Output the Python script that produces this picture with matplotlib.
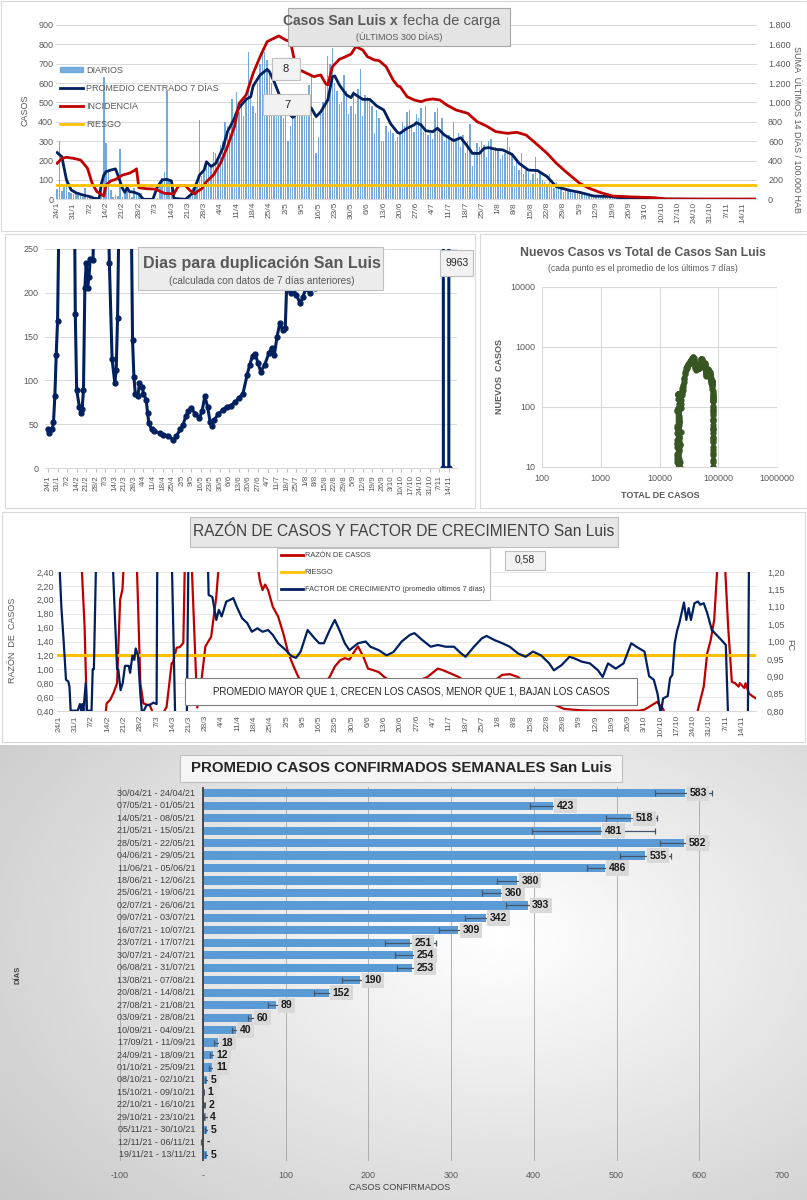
"""
San Luis COVID dashboard: daily cases, doubling days, growth factor and weekly averages.
"""

import numpy as np
import pandas as pd
import matplotlib
matplotlib.use("Agg")
import matplotlib.pyplot as plt
from matplotlib.patches import Rectangle, Patch
from matplotlib.lines import Line2D
from matplotlib.ticker import FuncFormatter


W, H = 807, 1200
NARROW = ["Liberation Sans Narrow", "Liberation Sans", "DejaVu Sans"]
GREY_TXT = "#595959"
NAVY = "#002060"
RED = "#c00000"
GOLD = "#ffc000"
BLUE_BAR = "#5b9bd5"
GREEN = "#375623"

plt.rcParams["font.family"] = NARROW

# ---------------------------------------------------------------- data
start_date = "2021-01-24"

daily_cases = [
    55, 300, 45, 70, 90, 40, 30,
    25, 35, 20, 15, 10, 60, 5,
    5, 0, 10, 5, 0, 20, 630,
    290, 140, 50, 10, 20, 15, 260,
    10, 30, 50, 40, 10, 60, 20,
    15, 30, 5, 0, 0, 0, 0,
    0, 5, 90, 110, 140, 560, 100,
    60, 10, 0, 0, 0, 0, 0,
    5, 20, 60, 80, 100, 410, 120,
    140, 200, 170, 160, 245, 240, 210,
    280, 300, 400, 380, 350, 520, 440,
    555, 450, 490, 430, 520, 760, 540,
    480, 445, 600, 700, 780, 760, 720,
    650, 600, 520, 480, 560, 500, 420,
    480, 300, 380, 450, 480, 440, 500,
    520, 480, 500, 590, 635, 420, 240,
    320, 440, 500, 600, 740, 700, 780,
    600, 560, 490, 500, 640, 560, 440,
    480, 560, 440, 570, 675, 430, 540,
    530, 520, 480, 340, 460, 420, 300,
    300, 380, 350, 360, 340, 300, 320,
    340, 400, 380, 450, 460, 380, 350,
    440, 420, 470, 350, 480, 330, 340,
    310, 450, 470, 340, 420, 300, 330,
    330, 310, 400, 300, 340, 270, 330,
    240, 300, 390, 170, 250, 290, 270,
    300, 280, 220, 300, 310, 250, 270,
    260, 210, 230, 240, 320, 270, 230,
    170, 210, 150, 240, 130, 150, 140,
    100, 130, 220, 110, 140, 100, 90,
    80, 130, 70, 60, 90, 70, 55,
    40, 60, 50, 40, 35, 30, 45,
    30, 25, 20, 30, 15, 20, 10,
    15, 10, 10, 12, 8, 6, 10,
    5, 8, 5, 4, 6, 3, 5,
    2, 4, 1, 2, 3, 0, 1,
    1, 0, 2, 1, 0, 0, 1,
    0, 1, 0, 0, 2, 0, 0,
    1, 0, 0, 1, 0, 0, 0,
    0, 1, 0, 0, 0, 1, 0,
    0, 0, 1, 0, 0, 0, 0,
    0, 1, 0, 0, 0, 0, 0,
    1, 0, 0, 0, 1, 0,
]

avg_days = [0, 2, 4, 6, 8, 11, 14, 16, 18, 19,
            20, 21, 23, 25, 26, 28, 29, 30, 31, 33,
            35, 37, 41, 43, 45, 47, 49, 50, 55, 58,
            60, 61, 63, 64, 66, 68, 71, 73, 76, 77,
            78, 81, 83, 84, 87, 90, 91, 93, 95, 98,
            100, 101, 103, 106, 109, 111, 113, 116, 118, 119,
            121, 124, 126, 127, 131, 134, 137, 140, 143, 146,
            147, 150, 153, 154, 156, 158, 161, 163, 166, 170,
            173, 176, 178, 181, 183, 185, 188, 191, 195, 198,
            202, 206, 210, 214, 220, 224, 230, 237, 244, 254,
            276, 299]
avg_vals = [241, 220, 100, 48, 34, 22, 14, 5, 3, 83,
            125, 143, 151, 157, 125, 57, 36, 60, 40, 36,
            27, 0, 0, 65, 100, 103, 95, 5, 0, 31,
            91, 125, 151, 194, 169, 186, 263, 349, 418, 452,
            473, 516, 530, 585, 642, 671, 659, 607, 547, 461,
            435, 423, 444, 487, 470, 427, 452, 513, 633, 637,
            590, 539, 525, 547, 516, 516, 482, 461, 389, 344,
            341, 367, 384, 396, 384, 354, 349, 367, 332, 303,
            318, 272, 237, 237, 263, 267, 258, 255, 232, 186,
            151, 148, 117, 65, 45, 36, 17, 14, 5, 2,
            0, 0]

inc_days = [0, 2, 4, 7, 10, 11, 13, 15, 17, 19,
            20, 21, 23, 25, 28, 31, 33, 34, 35, 38,
            42, 46, 50, 52, 55, 57, 59, 60, 62, 64,
            67, 70, 73, 76, 78, 81, 84, 87, 90, 92,
            95, 98, 100, 102, 104, 107, 110, 113, 115, 116,
            118, 121, 123, 126, 128, 131, 133, 136, 138, 141,
            144, 146, 147, 150, 153, 156, 158, 161, 164, 167,
            171, 176, 180, 184, 188, 193, 197, 201, 206, 210,
            214, 218, 224, 228, 233, 238, 247, 256, 261, 299]
inc_vals = [372, 423, 434, 423, 406, 379, 320, 165, 79, 50,
            35, 150, 190, 205, 250, 270, 295, 315, 120, 110,
            105, 62, 55, 140, 140, 90, 55, 79, 110, 182,
            251, 372, 544, 750, 991, 1077, 1301, 1473, 1628, 1652,
            1687, 1645, 1628, 1404, 1335, 1301, 1267, 1284, 1198, 1181,
            1370, 1446, 1466, 1500, 1576, 1542, 1473, 1439, 1432, 1370,
            1232, 1170, 1163, 1060, 1026, 1008, 1026, 1036, 1026, 974,
            922, 888, 802, 757, 699, 681, 692, 664, 561, 475,
            372, 286, 165, 114, 69, 34, 24, 17, 3, 2]
riesgo_incidencia = 150

dbl_days = [0, 1, 3, 4, 5, 6, 7, 9, 12, 18,
            20, 21, 23, 24, 25, 26, 27, 28, 29, 30,
            31, 33, 35, 40, 44, 45, 47, 49, 50, 51,
            53, 58, 61, 62, 63, 64, 66, 67, 69, 70,
            72, 73, 74, 76, 78, 82, 84, 88, 92, 94,
            97, 99, 101, 103, 105, 108, 111, 113, 115, 117,
            119, 120, 122, 125, 128, 131, 134, 137, 140, 143,
            146, 148, 150, 152, 154, 156, 159, 162, 164, 166,
            168, 170, 172, 174, 175, 178, 180, 182, 185, 187,
            189, 192, 194, 196, 198, 220, 260, 289, 290, 294,
            295]
dbl_vals = [44, 40, 44, 52, 82, 129, 168, 400, 800, 600,
            176, 89, 70, 63, 67, 89, 205, 234, 205, 218,
            239, 237, 400, 500, 320, 234, 124, 97, 112, 171,
            400, 500, 300, 146, 104, 85, 82, 97, 93, 85,
            78, 63, 51, 44, 42, 40, 38, 37, 32, 36,
            44, 49, 59, 65, 68, 62, 57, 65, 82, 70,
            52, 48, 55, 62, 66, 70, 71, 75, 80, 85,
            106, 118, 128, 130, 120, 110, 118, 131, 137, 129,
            150, 165, 158, 160, 205, 200, 205, 198, 188, 195,
            205, 200, 210, 205, 280, 900, 3000, 9000, 0, 0,
            9963]

prior_total = 19000

rz_days = [9, 9.8, 11, 12, 20, 20.5, 22, 23.4, 25, 25.5,
           26.3, 27.3, 28, 33.4, 34, 35, 36.3, 37.7, 39, 40.3,
           45, 46.3, 48.5, 49, 50.6, 52, 53.5, 54.2, 57, 59.5,
           61, 63, 65.5, 67.7, 69, 85, 86.5, 87.6, 88.7, 90,
           92, 94.3, 96.5, 98.7, 101, 103, 105, 108.7, 111, 113,
           116.5, 118.7, 121, 123, 125, 127.6, 128.7, 131, 133, 135,
           137.6, 140, 143, 145, 148.7, 152, 155, 158.6, 163, 165,
           168.6, 172, 175, 178.6, 182, 185, 187.5, 190.8, 194, 197.5,
           200.8, 204, 207.5, 211, 214, 217.4, 220.8, 225, 229.6, 235,
           249.6, 252, 254, 257.4, 260, 261, 274.5, 277.5, 279, 280.5,
           282, 283.6, 286.5, 288, 289.6, 291, 292.5, 293, 295, 295.5,
           297, 298.6, 300]
rz_vals = [2.6, 2.45, 1.62, 0.35, 0.35, 0.51, 0.56, 0.655, 0.80, 1.28,
           2.0, 2.15, 2.6, 2.6, 1.95, 0.80, 0.51, 0.49, 0.49, 0.38,
           0.38, 0.46, 1.09, 1.09, 1.31, 1.32, 1.38, 2.6, 2.6, 0.45,
           0.75, 1.33, 1.47, 2.05, 2.6, 2.6, 2.27, 2.14, 2.22, 2.14,
           1.90, 1.76, 1.52, 1.23, 1.04, 0.89, 0.80, 0.77, 0.80, 0.75,
           0.89, 1.04, 1.13, 1.16, 1.14, 1.28, 1.33, 1.18, 1.01, 0.99,
           0.96, 0.89, 0.82, 0.77, 0.80, 0.80, 0.84, 0.89, 1.01, 0.99,
           0.94, 0.89, 0.82, 0.80, 0.80, 0.77, 0.84, 0.92, 0.93, 0.89,
           0.80, 0.70, 0.60, 0.53, 0.48, 0.43, 0.42, 0.41, 0.405, 0.405,
           0.405, 0.42, 0.46, 0.53, 0.43, 0.35, 0.35, 0.75, 1.23, 1.42,
           1.71, 2.6, 2.6, 1.62, 0.82, 0.80, 0.75, 0.80, 0.73, 0.80,
           0.65, 0.61, 0.58]
riesgo_razon = 1.2

fc_days = [0, 1, 2, 3, 4, 4.5, 5, 8, 9, 9.5,
           10, 10.5, 11.5, 12, 14, 14.5, 15, 16, 23, 24,
           25, 25.5, 26.5, 27.4, 28.4, 30, 30.6, 31.6, 32.4, 33,
           34, 35, 35.6, 36.5, 37.7, 39, 40.6, 42, 42.3, 48.5,
           50, 55, 55.7, 64, 64.4, 66, 67.7, 68.8, 70, 72,
           73.7, 75, 76.5, 78.8, 81, 83, 85.4, 87.6, 90, 92,
           94.3, 97.6, 100, 102, 104, 107, 110, 112, 114, 116.5,
           118.7, 121, 123, 125, 128.7, 132, 134, 137.6, 141, 144,
           147.5, 151, 153, 156.4, 160, 163, 166.4, 170, 173, 175,
           178.6, 182, 184, 187.5, 190.8, 194, 197.5, 200.8, 204, 207.5,
           211, 213, 216.3, 219.7, 222, 225, 228.5, 232, 234, 236.3,
           239.6, 243, 246.3, 248.5, 252, 254, 256, 257.6, 259, 260,
           262, 263, 264, 265, 266, 267, 269, 270, 271, 272,
           273.5, 275, 276, 277.5, 279, 281, 283, 285, 287, 288,
           296.5, 297, 300]
fc_vals = [1.25, 1.10, 1.0, 0.89, 0.885, 0.87, 0.801, 0.801, 0.82, 0.801,
           0.82, 0.801, 0.88, 0.801, 0.801, 0.92, 0.92, 1.25, 1.25, 1.08,
           0.92, 0.92, 0.86, 0.88, 0.93, 0.93, 0.91, 0.96, 0.947, 0.98,
           0.96, 0.85, 0.801, 0.801, 0.817, 0.817, 0.824, 0.82, 1.25, 1.25,
           0.78, 0.78, 1.25, 1.25, 1.134, 1.128, 1.062, 1.091, 1.072, 1.115,
           1.12, 1.125, 1.10, 1.067, 1.053, 1.028, 1.038, 1.028, 1.033, 1.019,
           0.995, 0.975, 0.958, 0.953, 0.971, 1.033, 1.009, 0.995, 0.995, 1.033,
           1.062, 1.028, 0.995, 0.975, 0.995, 1.0, 0.985, 0.975, 0.96, 0.97,
           1.0, 1.019, 1.024, 1.004, 0.985, 0.99, 0.985, 0.985, 0.966, 0.956,
           0.985, 1.009, 1.016, 1.004, 0.995, 0.985, 0.966, 0.956, 0.971, 0.96,
           0.937, 0.917, 0.932, 0.956, 0.951, 0.942, 0.937, 0.917, 0.898, 0.937,
           0.922, 0.937, 0.995, 0.985, 0.971, 0.90, 0.89, 0.85, 0.79, 0.836,
           0.843, 0.894, 0.904, 0.995, 1.03, 1.053, 1.112, 1.062, 1.096, 1.062,
           1.11, 1.115, 1.106, 1.11, 1.082, 1.033, 1.019, 1.005, 0.99, 0.78,
           0.78, 1.25, 1.25]

week_labels = [
    "30/04/21 - 24/04/21", "07/05/21 - 01/05/21", "14/05/21 - 08/05/21",
    "21/05/21 - 15/05/21", "28/05/21 - 22/05/21", "04/06/21 - 29/05/21",
    "11/06/21 - 05/06/21", "18/06/21 - 12/06/21", "25/06/21 - 19/06/21",
    "02/07/21 - 26/06/21", "09/07/21 - 03/07/21", "16/07/21 - 10/07/21",
    "23/07/21 - 17/07/21", "30/07/21 - 24/07/21", "06/08/21 - 31/07/21",
    "13/08/21 - 07/08/21", "20/08/21 - 14/08/21", "27/08/21 - 21/08/21",
    "03/09/21 - 28/08/21", "10/09/21 - 04/09/21", "17/09/21 - 11/09/21",
    "24/09/21 - 18/09/21", "01/10/21 - 25/09/21", "08/10/21 - 02/10/21",
    "15/10/21 - 09/10/21", "22/10/21 - 16/10/21", "29/10/21 - 23/10/21",
    "05/11/21 - 30/10/21", "12/11/21 - 06/11/21", "19/11/21 - 13/11/21",
]
week_vals = [583, 423, 518, 481, 582, 535, 486, 380, 360, 393,
             342, 309, 251, 254, 253, 190, 152, 89, 60, 40,
             18, 12, 11, 5, 1, 2, 4, 5, 0, 5]
err_lo = [36, 27, 31, 83, 29, 31, 22, 25, 22, 27,
          25, 23, 31, 22, 18, 22, 17, 10, 5, 5,
          4, 3, 3, 2, 1, 1, 2, 2, 2, 2]
err_hi = [33, 27, 31, 66, 29, 31, 22, 25, 22, 27,
          25, 23, 31, 22, 18, 22, 17, 10, 5, 5,
          4, 3, 3, 2, 1, 1, 2, 2, 2, 2]


# ---------------------------------------------------------------- helpers
def ax_px(fig, x0, y0, x1, y1):
    return fig.add_axes([x0 / W, 1 - y1 / H, (x1 - x0) / W, (y1 - y0) / H])


def box_px(fig, x0, y0, x1, y1, fc, ec, lw=0.8, z=5):
    fig.patches.append(Rectangle(
        (x0 / W, 1 - y1 / H), (x1 - x0) / W, (y1 - y0) / H,
        transform=fig.transFigure, fc=fc, ec=ec, lw=lw, zorder=z,
    ))


def text_px(fig, x, y, s, **kw):
    kw.setdefault("ha", "center")
    kw.setdefault("va", "center")
    kw.setdefault("zorder", 6)
    fig.text(x / W, 1 - y / H, s, **kw)


def clean(ax, bottom="#d9d9d9"):
    for name, sp in ax.spines.items():
        sp.set_visible(name == "bottom" and bottom is not None)
        if bottom is not None:
            sp.set_color(bottom)
    ax.tick_params(length=0, labelsize=6.5, labelcolor=GREY_TXT, pad=2)


def comma(fmt):
    return FuncFormatter(lambda v, p: format(v, fmt).replace(".", ","))


days = np.arange(len(daily_cases))
tick_days = np.arange(0, 295, 7)
tick_labels = [f"{d.day}/{d.month}"
               for d in pd.date_range(start_date, periods=len(tick_days), freq="7D")]


def date_axis(ax, size=6):
    ax.set_xticks(tick_days)
    ax.set_xticklabels(tick_labels, rotation=90, fontsize=size, color=GREY_TXT)


fig = plt.figure(figsize=(W / 100, H / 100), dpi=100)
fig.patch.set_facecolor("white")

for x0, y0, x1, y1 in [(0.5, 0.5, 806.5, 231), (5, 234, 475, 508),
                       (480, 234, 806.5, 508), (2, 512, 805, 742)]:
    box_px(fig, x0, y0, x1, y1, "white", "#d9d9d9", z=-5)

# ---------------------------------------------------------------- panel 1
ax1 = ax_px(fig, 56, 25, 757, 199.3)
ax1.bar(days, daily_cases, width=0.6, color=BLUE_BAR, alpha=0.85, zorder=2)
ax1.plot(avg_days, avg_vals, color=NAVY, lw=2, zorder=3)
ax1.set_xlim(-0.5, 300)
ax1.set_ylim(0, 900)
ax1.set_yticks(range(0, 901, 100))
ax1.yaxis.grid(True, color="#d9d9d9", lw=0.7)
ax1.set_axisbelow(True)
clean(ax1)
date_axis(ax1)

ax1r = ax1.twinx()
ax1r.plot(inc_days, inc_vals, color=RED, lw=2)
ax1r.axhline(riesgo_incidencia, color=GOLD, lw=2)
ax1r.set_ylim(0, 1800)
ax1r.set_yticks(range(0, 1801, 200))
ax1r.yaxis.set_major_formatter(FuncFormatter(lambda v, p: f"{v:,.0f}".replace(",", ".")))
clean(ax1r, bottom=None)
ax1r.tick_params(pad=8)

text_px(fig, 25, 110, "CASOS", rotation=90, fontsize=6.5, color=GREY_TXT)
text_px(fig, 797, 130, "SUMA  ÚLTIMOS 14 DÍAS / 100.000 HAB", rotation=270,
        fontsize=6.5, color=GREY_TXT)

handles = [Patch(color=BLUE_BAR, alpha=0.8), Line2D([], [], color=NAVY, lw=2),
           Line2D([], [], color=RED, lw=2), Line2D([], [], color=GOLD, lw=2)]
leg = fig.legend(handles, ["DIARIOS", "PROMEDIO CENTRADO 7 DÍAS", "INCIDENCIA", "RIESGO"],
                 loc="upper left", bbox_to_anchor=(60 / W, 1 - 66 / H), frameon=False,
                 fontsize=6.5, labelspacing=1.0, handlelength=2.6, handleheight=0.5,
                 handletextpad=0.3, borderpad=0, borderaxespad=0, labelcolor=GREY_TXT)
leg.set_zorder(7)

box_px(fig, 288, 8, 510, 46, "#e4e4e4", "#a6a6a6")
text_px(fig, 398, 21, "Casos San Luis x", ha="right", fontsize=10,
        fontweight="bold", color=GREY_TXT)
text_px(fig, 403, 21, "fecha de carga", ha="left", fontsize=10.5, color=GREY_TXT)
text_px(fig, 399, 37, "(ÚLTIMOS 300 DÍAS)", fontsize=6.5, color=GREY_TXT)

box_px(fig, 272, 58, 300, 80, "#f2f2f2", "#bfbfbf")
text_px(fig, 286, 69, "8", fontsize=8, color="#262626")
box_px(fig, 263, 94, 310, 115, "#f2f2f2", "#bfbfbf")
text_px(fig, 287, 105, "7", fontsize=8, color="#262626")

# ---------------------------------------------------------------- panel 2
ax2 = ax_px(fig, 45.3, 249, 457, 468)
ax2.plot(dbl_days, dbl_vals, color=NAVY, lw=2.2, marker="o", ms=3.5)
ax2.set_xlim(-2, 300)
ax2.set_ylim(0, 250)
ax2.set_yticks(range(0, 251, 50))
ax2.yaxis.grid(True, color="#d9d9d9", lw=0.7)
ax2.set_axisbelow(True)
clean(ax2)
date_axis(ax2, size=5.8)
ax2.tick_params(axis="x", length=3, color="#bfbfbf", direction="out")
ax2.tick_params(axis="y", pad=5)

box_px(fig, 138, 247, 383, 290, "#ececec", "#bfbfbf")
text_px(fig, 262, 263, "Dias para duplicación San Luis", fontsize=11.5,
        fontweight="bold", color=GREY_TXT)
text_px(fig, 262, 281, "(calculada con datos de 7 días anteriores)",
        fontsize=7.2, color=GREY_TXT)
box_px(fig, 440, 250, 473, 276, "#f2f2f2", "#bfbfbf")
text_px(fig, 457, 263, "9963", fontsize=7.5, color="#262626")

# ---------------------------------------------------------------- panel 3
new_cases = np.convolve(daily_cases, np.ones(7) / 7, mode="valid")
total_cases = prior_total + np.cumsum(daily_cases)[6:]

ax3 = ax_px(fig, 542, 287, 777, 467)
ax3.plot(total_cases, new_cases, color=GREEN, lw=1.5, marker="o", ms=3.5)
ax3.set_xscale("log")
ax3.set_yscale("log")
ax3.set_xlim(100, 1e6)
ax3.set_ylim(10, 1e4)
ax3.set_xticks([100, 1000, 10000, 100000, 1000000])
ax3.set_xticklabels(["100", "1000", "10000", "100000", "1000000"])
ax3.set_yticks([10, 100, 1000, 10000])
ax3.set_yticklabels(["10", "100", "1000", "10000"])
ax3.minorticks_off()
ax3.grid(True, color="#d9d9d9", lw=0.8)
ax3.set_axisbelow(True)
clean(ax3)
ax3.tick_params(pad=5)
text_px(fig, 643, 253, "Nuevos Casos vs Total de Casos San Luis", fontsize=8.8,
        fontweight="bold", color=GREY_TXT)
text_px(fig, 643, 268, "(cada punto es el promedio de los últimos 7 días)",
        fontsize=6.2, color=GREY_TXT)
text_px(fig, 500, 377, "NUEVOS  CASOS", rotation=90, fontsize=6.5,
        fontweight="bold", color=GREY_TXT)
text_px(fig, 660, 495, "TOTAL DE CASOS", fontsize=6.5, fontweight="bold", color=GREY_TXT)

# ---------------------------------------------------------------- panel 4
ax4 = ax_px(fig, 56.7, 572, 756, 711)
ax4.plot(rz_days, rz_vals, color=RED, lw=1.6)
ax4.axhline(riesgo_razon, color=GOLD, lw=2.2)
ax4.set_xlim(-1, 300)
ax4.set_ylim(0.4, 2.4)
ax4.set_yticks(np.arange(0.4, 2.41, 0.2))
ax4.yaxis.set_major_formatter(comma(".2f"))
ax4.yaxis.grid(True, color="#e3e3e3", lw=0.6)
ax4.set_axisbelow(True)
clean(ax4)
date_axis(ax4)
ax4.tick_params(axis="x", pad=3)

ax4r = ax4.twinx()
ax4r.plot(fc_days, fc_vals, color=NAVY, lw=1.6)
ax4r.set_ylim(0.8, 1.2)
ax4r.set_yticks(np.arange(0.8, 1.201, 0.05))
ax4r.yaxis.set_major_formatter(comma(".2f"))
clean(ax4r, bottom=None)
ax4r.tick_params(pad=8)

text_px(fig, 13, 640, "RAZÓN  DE  CASOS", rotation=90, fontsize=6.5, color=GREY_TXT)
text_px(fig, 790, 645, "FC", rotation=270, fontsize=6.5, color=GREY_TXT)

box_px(fig, 190, 517, 618, 547, "#e7e6e6", "#bfbfbf")
text_px(fig, 404, 532, "RAZÓN DE CASOS Y FACTOR DE CRECIMIENTO San Luis",
        fontsize=11.2, color="#404040")

box_px(fig, 277, 548, 490, 600, "white", "#bfbfbf")
leg4 = fig.legend([Line2D([], [], color=RED, lw=2), Line2D([], [], color=GOLD, lw=2),
                   Line2D([], [], color=NAVY, lw=2)],
                  ["RAZÓN DE CASOS", "RIESGO",
                   "FACTOR DE CRECIMIENTO (promedio últimos 7 días)"],
                  loc="upper left", bbox_to_anchor=(281 / W, 1 - 552 / H), frameon=False,
                  fontsize=5.3, labelspacing=1.35, handlelength=3.0,
                  handletextpad=0.2, borderpad=0, borderaxespad=0, labelcolor="#404040")
leg4.set_zorder(7)

box_px(fig, 505, 551, 545, 570, "#f2f2f2", "#bfbfbf")
text_px(fig, 525, 560, "0,58", fontsize=7.5, color="#262626")

box_px(fig, 185, 678, 637, 705, "white", "#7f7f7f")
text_px(fig, 411, 692,
        "PROMEDIO MAYOR QUE 1, CRECEN LOS CASOS, MENOR QUE 1, BAJAN LOS CASOS",
        fontsize=7.0, color="#262626")

# ---------------------------------------------------------------- panel 5
axbg = ax_px(fig, 0, 745, 807, 1200)
axbg.set_zorder(-4)
gx, gy = np.meshgrid(np.linspace(0, 1, 200), np.linspace(0, 1, 200))
rr = np.hypot((gx - 0.62) / 0.75, (gy - 0.42) / 0.85)
axbg.imshow(1 - 0.2 * np.clip(rr, 0, 1.3), cmap="gray", vmin=0, vmax=1,
            extent=(0, 1, 0, 1), aspect="auto")
axbg.axis("off")

ax5 = ax_px(fig, 120, 787, 782, 1161)
ax5.set_facecolor("none")
ypos = np.arange(len(week_vals))
ax5.barh(ypos, week_vals, height=0.66, color=BLUE_BAR, zorder=2)
ax5.errorbar(week_vals, ypos, xerr=[err_lo, err_hi], fmt="none", ecolor="#44546a",
             elinewidth=0.9, capsize=2.2, capthick=0.9, zorder=3)
ax5.axvline(0, color="#404040", lw=1.3, zorder=2.5)
ax5.set_xlim(-100, 700)
ax5.set_ylim(len(week_vals) - 0.5, -0.5)
ax5.set_xticks(range(-100, 701, 100))
ax5.set_xticklabels(["-100", "-", "100", "200", "300", "400", "500", "600", "700"])
ax5.set_yticks([])
ax5.xaxis.grid(True, color="#a6a6a6", lw=0.6)
ax5.set_axisbelow(True)
for sp in ax5.spines.values():
    sp.set_visible(False)
ax5.tick_params(length=0, labelsize=6.5, labelcolor=GREY_TXT, pad=7)

for i, (lab, v) in enumerate(zip(week_labels, week_vals)):
    ax5.text(-9, i, lab, ha="right", va="center", fontsize=6.5, color="#404040")
    ax5.annotate("-" if v == 0 else str(v), xy=(v, i), xytext=(3, 0),
                 textcoords="offset points", ha="left", va="center",
                 fontsize=7.5, fontweight="bold", color="#1a1a1a", zorder=5,
                 bbox=dict(boxstyle="square,pad=0.25", fc="#d9d9d9", ec="none"))

text_px(fig, 400, 1187, "CASOS CONFIRMADOS", fontsize=6.5, color="#404040")
text_px(fig, 18, 975, "DÍAS", rotation=90, fontsize=5.5, fontweight="bold", color="#404040")
box_px(fig, 180, 755, 622, 782, "#f5f5f5", "#bfbfbf")
text_px(fig, 401, 768, "PROMEDIO CASOS CONFIRMADOS SEMANALES San Luis",
        fontsize=10.8, fontweight="bold", color="#262626")

fig.savefig("out.png", dpi=100)
